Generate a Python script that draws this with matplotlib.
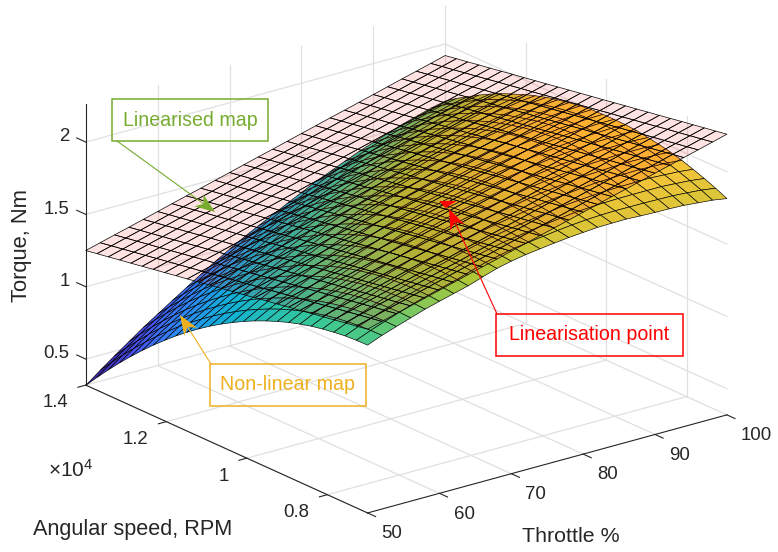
import numpy as np
import matplotlib
matplotlib.use('Agg')
import matplotlib.pyplot as plt
from matplotlib.colors import LinearSegmentedColormap
from matplotlib.patches import Rectangle, Polygon

plt.rcParams['font.family'] = ['Liberation Sans', 'DejaVu Sans']
plt.rcParams['mathtext.default'] = 'regular'

throttle = [50, 52, 54, 56, 58, 60, 62, 64, 66, 68, 70, 72, 74, 76, 78, 80, 82, 84, 86, 88, 90, 92, 94, 96, 98, 100]
speed = [14000, 13720, 13440, 13160, 12880, 12600, 12320, 12040, 11760, 11480, 11200, 10920, 10640,
         10360, 10080, 9800, 9520, 9240, 8960, 8680, 8400, 8120, 7840, 7560, 7280, 7000]

# rows = throttle, columns = speed
torque = [
    [.318, .409, .496, .580, .660, .736, .809, .877, .943, 1.004, 1.062, 1.116, 1.166, 1.212, 1.255, 1.294, 1.329, 1.361, 1.389, 1.413, 1.434, 1.450, 1.463, 1.473, 1.478, 1.480],
    [.395, .485, .571, .653, .731, .806, .877, .945, 1.008, 1.068, 1.124, 1.176, 1.225, 1.270, 1.311, 1.349, 1.383, 1.413, 1.439, 1.462, 1.481, 1.496, 1.507, 1.515, 1.519, 1.520],
    [.468, .556, .640, .721, .798, .871, .940, 1.006, 1.068, 1.126, 1.181, 1.232, 1.279, 1.323, 1.362, 1.398, 1.431, 1.459, 1.484, 1.505, 1.522, 1.536, 1.546, 1.552, 1.555, 1.554],
    [.539, .626, .708, .788, .863, .935, 1.003, 1.067, 1.127, 1.184, 1.237, 1.287, 1.332, 1.374, 1.412, 1.447, 1.478, 1.505, 1.528, 1.548, 1.564, 1.576, 1.584, 1.589, 1.590, 1.587],
    [.610, .695, .776, .854, .928, .998, 1.064, 1.127, 1.186, 1.242, 1.293, 1.341, 1.385, 1.425, 1.462, 1.495, 1.524, 1.550, 1.571, 1.590, 1.604, 1.615, 1.621, 1.625, 1.624, 1.620],
    [.675, .759, .838, .915, .987, 1.056, 1.120, 1.182, 1.239, 1.293, 1.343, 1.389, 1.432, 1.471, 1.506, 1.537, 1.565, 1.589, 1.609, 1.626, 1.639, 1.648, 1.653, 1.655, 1.653, 1.647],
    [.740, .822, .900, .975, 1.046, 1.113, 1.176, 1.236, 1.292, 1.344, 1.392, 1.437, 1.478, 1.516, 1.549, 1.579, 1.605, 1.628, 1.646, 1.662, 1.673, 1.681, 1.684, 1.684, 1.681, 1.674],
    [.804, .885, .961, 1.034, 1.104, 1.169, 1.231, 1.289, 1.344, 1.395, 1.441, 1.484, 1.524, 1.560, 1.592, 1.620, 1.645, 1.666, 1.683, 1.697, 1.707, 1.713, 1.715, 1.713, 1.708, 1.700],
    [.868, .947, 1.021, 1.093, 1.161, 1.225, 1.285, 1.342, 1.395, 1.444, 1.489, 1.531, 1.569, 1.604, 1.634, 1.661, 1.684, 1.704, 1.719, 1.731, 1.739, 1.744, 1.744, 1.746, 1.741, 1.734],
    [.930, 1.008, 1.081, 1.151, 1.218, 1.280, 1.339, 1.394, 1.445, 1.493, 1.537, 1.577, 1.614, 1.647, 1.675, 1.701, 1.723, 1.741, 1.754, 1.765, 1.772, 1.775, 1.774, 1.775, 1.772, 1.766],
    [.988, 1.064, 1.135, 1.204, 1.269, 1.330, 1.387, 1.440, 1.490, 1.537, 1.579, 1.617, 1.653, 1.684, 1.711, 1.735, 1.755, 1.772, 1.784, 1.793, 1.798, 1.800, 1.799, 1.800, 1.796, 1.789],
    [1.044, 1.119, 1.189, 1.256, 1.319, 1.379, 1.434, 1.486, 1.535, 1.580, 1.620, 1.657, 1.691, 1.721, 1.746, 1.769, 1.788, 1.803, 1.813, 1.821, 1.825, 1.825, 1.823, 1.821, 1.816, 1.807],
    [1.095, 1.168, 1.236, 1.302, 1.364, 1.422, 1.476, 1.527, 1.574, 1.617, 1.655, 1.691, 1.724, 1.752, 1.776, 1.797, 1.814, 1.828, 1.836, 1.843, 1.845, 1.844, 1.841, 1.837, 1.830, 1.820],
    [1.145, 1.217, 1.284, 1.348, 1.408, 1.465, 1.517, 1.566, 1.612, 1.654, 1.691, 1.725, 1.756, 1.783, 1.805, 1.824, 1.840, 1.852, 1.859, 1.864, 1.865, 1.862, 1.858, 1.852, 1.844, 1.833],
    [1.195, 1.265, 1.330, 1.393, 1.452, 1.507, 1.557, 1.605, 1.649, 1.690, 1.725, 1.758, 1.787, 1.812, 1.833, 1.851, 1.865, 1.876, 1.881, 1.885, 1.884, 1.880, 1.874, 1.867, 1.857, 1.844],
    [1.244, 1.313, 1.376, 1.437, 1.495, 1.549, 1.597, 1.644, 1.686, 1.725, 1.759, 1.790, 1.818, 1.842, 1.861, 1.877, 1.890, 1.899, 1.903, 1.905, 1.903, 1.897, 1.889, 1.880, 1.868, 1.852],
    [1.293, 1.360, 1.422, 1.481, 1.537, 1.589, 1.636, 1.681, 1.722, 1.760, 1.792, 1.822, 1.848, 1.870, 1.888, 1.903, 1.914, 1.922, 1.924, 1.924, 1.920, 1.913, 1.903, 1.892, 1.877, 1.860],
    [1.335, 1.401, 1.461, 1.520, 1.574, 1.625, 1.670, 1.713, 1.753, 1.789, 1.819, 1.848, 1.872, 1.893, 1.909, 1.923, 1.932, 1.939, 1.939, 1.938, 1.933, 1.924, 1.912, 1.899, 1.882, 1.862],
    [1.378, 1.442, 1.500, 1.557, 1.610, 1.659, 1.703, 1.745, 1.783, 1.817, 1.846, 1.873, 1.896, 1.916, 1.930, 1.942, 1.950, 1.955, 1.954, 1.951, 1.944, 1.934, 1.920, 1.904, 1.885, 1.863],
    [1.419, 1.482, 1.539, 1.594, 1.645, 1.693, 1.735, 1.776, 1.812, 1.845, 1.872, 1.898, 1.920, 1.938, 1.950, 1.961, 1.967, 1.970, 1.968, 1.964, 1.956, 1.944, 1.926, 1.907, 1.884, 1.858],
    [1.455, 1.516, 1.572, 1.625, 1.675, 1.722, 1.762, 1.801, 1.836, 1.867, 1.893, 1.917, 1.937, 1.954, 1.964, 1.974, 1.979, 1.980, 1.976, 1.971, 1.961, 1.948, 1.929, 1.908, 1.884, 1.855],
    [1.490, 1.550, 1.604, 1.656, 1.704, 1.749, 1.788, 1.826, 1.859, 1.889, 1.913, 1.935, 1.954, 1.969, 1.978, 1.986, 1.990, 1.990, 1.984, 1.977, 1.966, 1.951, 1.930, 1.908, 1.882, 1.853],
    [1.525, 1.583, 1.635, 1.686, 1.733, 1.776, 1.814, 1.850, 1.882, 1.910, 1.932, 1.953, 1.971, 1.984, 1.992, 1.998, 2.000, 1.999, 1.991, 1.983, 1.970, 1.954, 1.932, 1.908, 1.880, 1.849],
    [1.554, 1.611, 1.661, 1.711, 1.756, 1.798, 1.834, 1.868, 1.898, 1.925, 1.946, 1.966, 1.981, 1.993, 1.999, 2.004, 2.005, 2.002, 1.993, 1.983, 1.969, 1.951, 1.927, 1.902, 1.873, 1.840],
    [1.583, 1.638, 1.687, 1.734, 1.778, 1.819, 1.853, 1.886, 1.915, 1.940, 1.959, 1.977, 1.991, 2.002, 2.006, 2.009, 2.009, 2.004, 1.994, 1.982, 1.966, 1.947, 1.922, 1.895, 1.865, 1.831],
    [1.605, 1.659, 1.706, 1.753, 1.795, 1.834, 1.866, 1.898, 1.925, 1.949, 1.967, 1.983, 1.996, 2.005, 2.008, 2.009, 2.007, 2.001, 1.989, 1.976, 1.959, 1.938, 1.911, 1.883, 1.851, 1.815],
]

linear_map = [
    [1.250, 1.264, 1.277, 1.291, 1.304, 1.318, 1.332, 1.345, 1.359, 1.372, 1.386, 1.400, 1.413, 1.427, 1.440, 1.454, 1.468, 1.481, 1.495, 1.508, 1.522, 1.536, 1.549, 1.563, 1.576, 1.590],
    [1.277, 1.291, 1.304, 1.318, 1.331, 1.345, 1.359, 1.372, 1.386, 1.399, 1.413, 1.427, 1.440, 1.454, 1.467, 1.481, 1.495, 1.508, 1.522, 1.535, 1.549, 1.563, 1.576, 1.590, 1.603, 1.617],
    [1.304, 1.318, 1.331, 1.345, 1.358, 1.372, 1.386, 1.399, 1.413, 1.426, 1.440, 1.454, 1.467, 1.481, 1.494, 1.508, 1.522, 1.535, 1.549, 1.562, 1.576, 1.590, 1.603, 1.617, 1.630, 1.644],
    [1.330, 1.344, 1.357, 1.371, 1.384, 1.398, 1.412, 1.425, 1.439, 1.452, 1.466, 1.480, 1.493, 1.507, 1.520, 1.534, 1.548, 1.561, 1.575, 1.588, 1.602, 1.616, 1.629, 1.643, 1.656, 1.670],
    [1.357, 1.371, 1.384, 1.398, 1.411, 1.425, 1.439, 1.452, 1.466, 1.479, 1.493, 1.507, 1.520, 1.534, 1.547, 1.561, 1.575, 1.588, 1.602, 1.615, 1.629, 1.643, 1.656, 1.670, 1.683, 1.697],
    [1.384, 1.398, 1.411, 1.425, 1.438, 1.452, 1.466, 1.479, 1.493, 1.506, 1.520, 1.534, 1.547, 1.561, 1.574, 1.588, 1.602, 1.615, 1.629, 1.642, 1.656, 1.670, 1.683, 1.697, 1.710, 1.724],
    [1.411, 1.425, 1.438, 1.452, 1.465, 1.479, 1.493, 1.506, 1.520, 1.533, 1.547, 1.561, 1.574, 1.588, 1.601, 1.615, 1.629, 1.642, 1.656, 1.669, 1.683, 1.697, 1.710, 1.724, 1.737, 1.751],
    [1.438, 1.452, 1.465, 1.479, 1.492, 1.506, 1.520, 1.533, 1.547, 1.560, 1.574, 1.588, 1.601, 1.615, 1.628, 1.642, 1.656, 1.669, 1.683, 1.696, 1.710, 1.724, 1.737, 1.751, 1.764, 1.778],
    [1.464, 1.478, 1.491, 1.505, 1.518, 1.532, 1.546, 1.559, 1.573, 1.586, 1.600, 1.614, 1.627, 1.641, 1.654, 1.668, 1.682, 1.695, 1.709, 1.722, 1.736, 1.750, 1.763, 1.777, 1.790, 1.804],
    [1.491, 1.505, 1.518, 1.532, 1.545, 1.559, 1.573, 1.586, 1.600, 1.613, 1.627, 1.641, 1.654, 1.668, 1.681, 1.695, 1.709, 1.722, 1.736, 1.749, 1.763, 1.777, 1.790, 1.804, 1.817, 1.831],
    [1.518, 1.532, 1.545, 1.559, 1.572, 1.586, 1.600, 1.613, 1.627, 1.640, 1.654, 1.668, 1.681, 1.695, 1.708, 1.722, 1.736, 1.749, 1.763, 1.776, 1.790, 1.804, 1.817, 1.831, 1.844, 1.858],
    [1.545, 1.559, 1.572, 1.586, 1.599, 1.613, 1.627, 1.640, 1.654, 1.667, 1.681, 1.695, 1.708, 1.722, 1.735, 1.749, 1.763, 1.776, 1.790, 1.803, 1.817, 1.831, 1.844, 1.858, 1.871, 1.885],
    [1.572, 1.586, 1.599, 1.613, 1.626, 1.640, 1.654, 1.667, 1.681, 1.694, 1.708, 1.722, 1.735, 1.749, 1.762, 1.776, 1.790, 1.803, 1.817, 1.830, 1.844, 1.858, 1.871, 1.885, 1.898, 1.912],
    [1.598, 1.612, 1.625, 1.639, 1.652, 1.666, 1.680, 1.693, 1.707, 1.720, 1.734, 1.748, 1.761, 1.775, 1.788, 1.802, 1.816, 1.829, 1.843, 1.856, 1.870, 1.884, 1.897, 1.911, 1.924, 1.938],
    [1.625, 1.639, 1.652, 1.666, 1.679, 1.693, 1.707, 1.720, 1.734, 1.747, 1.761, 1.775, 1.788, 1.802, 1.815, 1.829, 1.843, 1.856, 1.870, 1.883, 1.897, 1.911, 1.924, 1.938, 1.951, 1.965],
    [1.652, 1.666, 1.679, 1.693, 1.706, 1.720, 1.734, 1.747, 1.761, 1.774, 1.788, 1.802, 1.815, 1.829, 1.842, 1.856, 1.870, 1.883, 1.897, 1.910, 1.924, 1.938, 1.951, 1.965, 1.978, 1.992],
    [1.679, 1.693, 1.706, 1.720, 1.733, 1.747, 1.761, 1.774, 1.788, 1.801, 1.815, 1.829, 1.842, 1.856, 1.869, 1.883, 1.897, 1.910, 1.924, 1.937, 1.951, 1.965, 1.978, 1.992, 2.005, 2.019],
    [1.706, 1.720, 1.733, 1.747, 1.760, 1.774, 1.788, 1.801, 1.815, 1.828, 1.842, 1.856, 1.869, 1.883, 1.896, 1.910, 1.924, 1.937, 1.951, 1.964, 1.978, 1.992, 2.005, 2.019, 2.032, 2.046],
    [1.732, 1.746, 1.759, 1.773, 1.786, 1.800, 1.814, 1.827, 1.841, 1.854, 1.868, 1.882, 1.895, 1.909, 1.922, 1.936, 1.950, 1.963, 1.977, 1.990, 2.004, 2.018, 2.031, 2.045, 2.058, 2.072],
    [1.759, 1.773, 1.786, 1.800, 1.813, 1.827, 1.841, 1.854, 1.868, 1.881, 1.895, 1.909, 1.922, 1.936, 1.949, 1.963, 1.977, 1.990, 2.004, 2.017, 2.031, 2.045, 2.058, 2.072, 2.085, 2.099],
    [1.786, 1.800, 1.813, 1.827, 1.840, 1.854, 1.868, 1.881, 1.895, 1.908, 1.922, 1.936, 1.949, 1.963, 1.976, 1.990, 2.004, 2.017, 2.031, 2.044, 2.058, 2.072, 2.085, 2.099, 2.112, 2.126],
    [1.813, 1.827, 1.840, 1.854, 1.867, 1.881, 1.895, 1.908, 1.922, 1.935, 1.949, 1.963, 1.976, 1.990, 2.003, 2.017, 2.031, 2.044, 2.058, 2.071, 2.085, 2.099, 2.112, 2.126, 2.139, 2.153],
    [1.840, 1.854, 1.867, 1.881, 1.894, 1.908, 1.922, 1.935, 1.949, 1.962, 1.976, 1.990, 2.003, 2.017, 2.030, 2.044, 2.058, 2.071, 2.085, 2.098, 2.112, 2.126, 2.139, 2.153, 2.166, 2.180],
    [1.866, 1.880, 1.893, 1.907, 1.920, 1.934, 1.948, 1.961, 1.975, 1.988, 2.002, 2.016, 2.029, 2.043, 2.056, 2.070, 2.084, 2.097, 2.111, 2.124, 2.138, 2.152, 2.165, 2.179, 2.192, 2.206],
    [1.893, 1.907, 1.920, 1.934, 1.947, 1.961, 1.975, 1.988, 2.002, 2.015, 2.029, 2.043, 2.056, 2.070, 2.083, 2.097, 2.111, 2.124, 2.138, 2.151, 2.165, 2.179, 2.192, 2.206, 2.219, 2.233],
    [1.920, 1.934, 1.947, 1.961, 1.974, 1.988, 2.002, 2.015, 2.029, 2.042, 2.056, 2.070, 2.083, 2.097, 2.110, 2.124, 2.138, 2.151, 2.165, 2.178, 2.192, 2.206, 2.219, 2.233, 2.246, 2.260],
]

lin_throttle = [75]
lin_speed = [9500]
lin_torque = [1.80]

throttle_ticks = [50, 60, 70, 80, 90, 100]
speed_ticks = [14000, 12000, 10000, 8000]
speed_labels = ['1.4', '1.2', '1', '0.8']
torque_ticks = [0.5, 1, 1.5, 2]
torque_labels = ['0.5', '1', '1.5', '2']

parula = LinearSegmentedColormap.from_list('parula', [
    (0.2422, 0.1504, 0.6603), (0.2810, 0.3228, 0.9579), (0.1786, 0.5289, 0.9682), (0.0689, 0.6948, 0.8394),
    (0.2161, 0.7843, 0.5923), (0.6720, 0.7793, 0.2227), (0.9970, 0.7659, 0.2199), (0.9769, 0.9839, 0.0805)])

t_min, t_max = 50, 100
s_min, s_max = 7000, 14000
z_min, z_max = 0.32, 2.26
dark = (0.15, 0.15, 0.15)
grid = (0.88, 0.88, 0.88)

fig = plt.figure(figsize=(7.78, 5.52), dpi=100)
ax = fig.add_axes([51 / 778, -63 / 552, 692 / 778, 692 / 552], projection='3d')
ax.set_proj_type('ortho')
ax.set_box_aspect((455, 460, 300))
ax.view_init(elev=20.6, azim=-127.8)
ax.set_axis_off()
ax.computed_zorder = False

# grid on the floor and the two back walls
for t in throttle_ticks:
    ax.plot([t, t], [s_min, s_max], [z_min, z_min], color=grid, lw=0.9, zorder=1)
    if t > t_min:
        ax.plot([t, t], [s_max, s_max], [z_min, z_max], color=grid, lw=0.9, zorder=1)
for s in speed_ticks:
    ax.plot([t_min, t_max], [s, s], [z_min, z_min], color=grid, lw=0.9, zorder=1)
    if s < s_max:
        ax.plot([t_max, t_max], [s, s], [z_min, z_max], color=grid, lw=0.9, zorder=1)
for z in torque_ticks:
    ax.plot([t_min, t_max], [s_max, s_max], [z, z], color=grid, lw=0.9, zorder=1)
    ax.plot([t_max, t_max], [s_max, s_min], [z, z], color=grid, lw=0.9, zorder=1)

# axis lines
ax.plot([t_min, t_max], [s_min, s_min], [z_min, z_min], color=dark, lw=0.8, zorder=2)
ax.plot([t_min, t_min], [s_min, s_max], [z_min, z_min], color=dark, lw=0.8, zorder=2)
ax.plot([t_min, t_min], [s_max, s_max], [z_min, z_max], color=dark, lw=0.8, zorder=2)

for t in throttle_ticks:
    ax.plot([t, t], [s_min, s_min - 200], [z_min, z_min], color=dark, lw=0.8, zorder=2)
    ax.text(t, s_min - 350, z_min - 0.10, str(t), fontsize=13.4, color=dark, ha='left', va='center')
for s, lab in zip(speed_ticks, speed_labels):
    ax.plot([t_min, t_min - 1.1], [s, s], [z_min, z_min], color=dark, lw=0.8, zorder=2)
    ax.text(t_min - 2.48, s, z_min - 0.09, lab, fontsize=13.4, color=dark, ha='right', va='center')
for z, lab in zip(torque_ticks, torque_labels):
    ax.plot([t_min, t_min], [s_max, s_max + 225], [z, z], color=dark, lw=0.8, zorder=2)
    ax.text(t_min, s_max + 400, z - 0.015, lab, fontsize=13.4, color=dark, ha='right', va='center')

X, Y = np.meshgrid(throttle, speed, indexing='ij')
Z = np.array(torque)
P = np.array(linear_map)

colors = parula((Z - z_min) / (z_max - z_min))
ax.plot_surface(X, Y, Z, facecolors=colors, edgecolor='k', linewidth=0.45, rstride=1, cstride=1,
                shade=False, antialiased=True, zorder=3)

pink = np.zeros(P.shape + (4,))
pink[..., 0] = 1
pink[..., 3] = 0.11
ax.plot_surface(X, Y, P, facecolors=pink, edgecolor='k', linewidth=0.5, rstride=1, cstride=1,
                shade=False, antialiased=True, zorder=4)

# flat red marker at the linearisation point
ax.plot(lin_throttle, lin_speed, lin_torque, marker=[(-8, 3.5), (9, 3.5), (-2, -3.5)], ms=13, color='r',
        mew=0, ls='none', zorder=5)

ax.set_xlim(t_min, t_max, view_margin=0)
ax.set_ylim(s_min, s_max, view_margin=0)
ax.set_zlim(z_min, z_max, view_margin=0)

# labels and callouts are placed in pixel coordinates on a top layer
ann = fig.add_axes([0, 0, 1, 1])
ann.set_xlim(0, 778)
ann.set_ylim(552, 0)
ann.axis('off')

ann.text(22, 245, 'Torque, Nm', rotation=90, fontsize=15.8, color=dark, ha='center', va='center')
ann.text(132.5, 530, 'Angular speed, RPM', fontsize=15.6, color=dark, ha='center', va='center')
ann.text(571, 537, 'Throttle %', fontsize=15.4, color=dark, ha='center', va='center')
ann.text(71, 470, r'$\times10^{4}$', fontsize=15, color=dark, ha='center', va='center')

green = (0.467, 0.675, 0.188)
orange = (0.929, 0.694, 0.125)
red = (1, 0, 0)
callouts = [
    ('Linearised map', green, (112, 99, 156, 42), (117, 141), (215, 212)),
    ('Non-linear map', orange, (210, 364, 156, 42), (211, 364), (180, 315)),
    ('Linearisation point', red, (496, 314, 187, 42), (497, 314), (449, 209)),
]
for name, col, box, start, tip in callouts:
    ann.add_patch(Rectangle((box[0], box[1]), box[2], box[3], fill=False, edgecolor=col, lw=1.1))
    ann.text(box[0] + box[2] / 2, box[1] + box[3] / 2, name, color=col, fontsize=14.1, ha='center', va='center')
    # notched arrow head like the original annotation
    d = np.array(tip, float) - np.array(start, float)
    d = d / np.hypot(d[0], d[1])
    n = np.array([-d[1], d[0]])
    tip_p = np.array(tip, float)
    notch = tip_p - 14 * d
    ann.plot([start[0], notch[0]], [start[1], notch[1]], color=col, lw=0.8)
    ann.add_patch(Polygon([tip_p, tip_p - 20 * d + 7.5 * n, notch, tip_p - 20 * d - 7.5 * n],
                          closed=True, facecolor=col, edgecolor='none'))

fig.savefig('out.png', dpi=100)
